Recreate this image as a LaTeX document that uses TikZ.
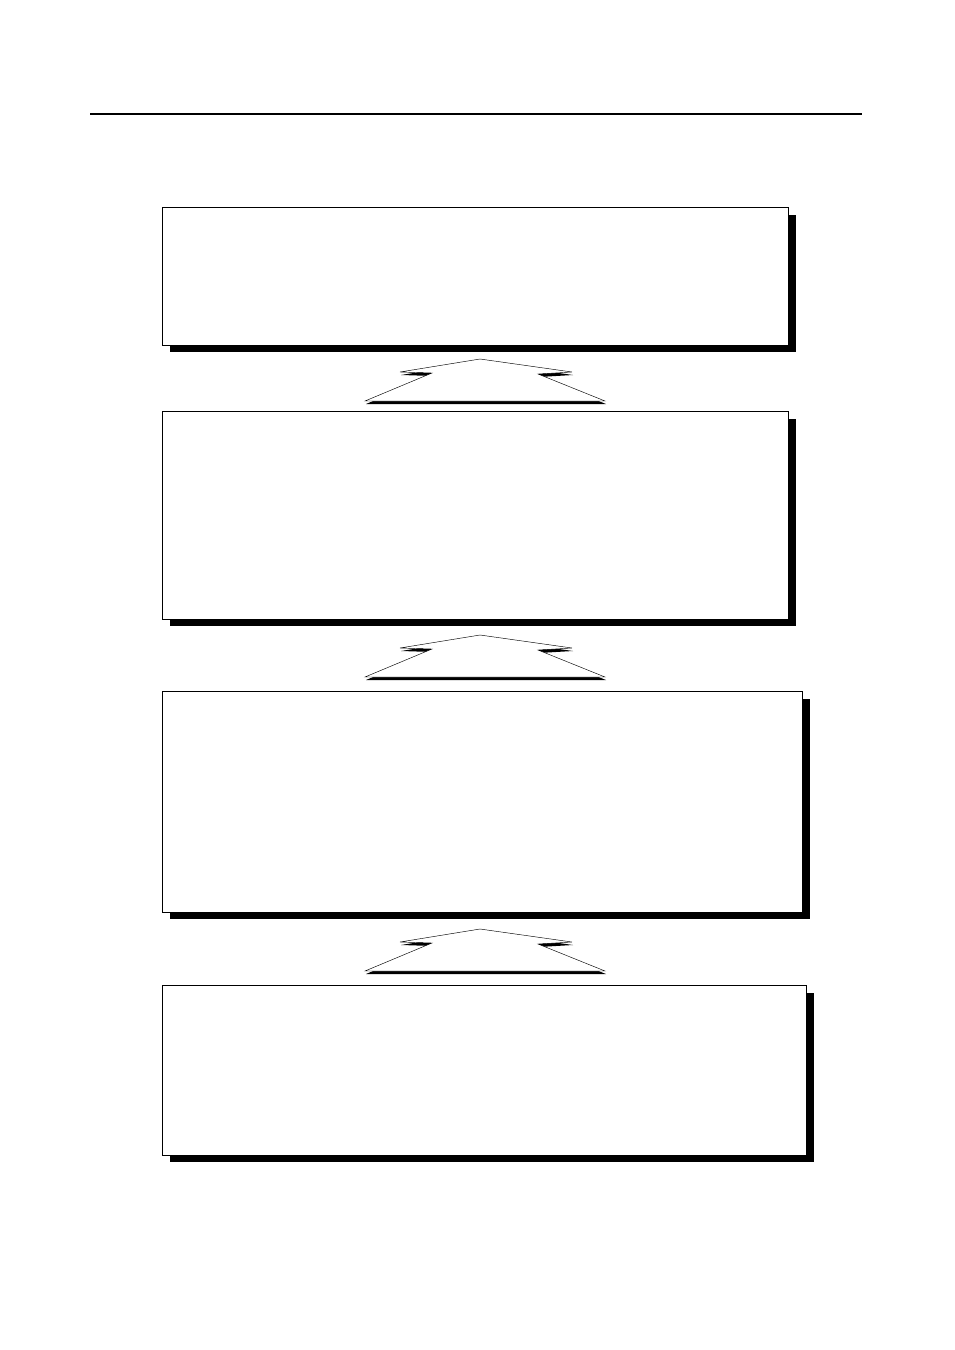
\documentclass[tikz,border=0pt]{standalone}
\begin{document}
\begin{tikzpicture}[x=1pt,y=-1pt,
  panel/.style={draw=black,line width=0.9pt,fill=white},
  panelshadow/.style={fill=black},
  roof/.style={draw=black,line width=0.45pt,fill=white},
  roofshadow/.style={fill=black}]
\useasboundingbox (0,0) rectangle (954,1350);
% top rule
\coordinate (ruleL) at (90,114);
\coordinate (ruleR) at (862,114);
\draw[line width=1.8pt] (ruleL) -- (ruleR);
% panels with shadows
\foreach \n/\l/\t/\r/\b in {p1/162/207/788/345, p2/162/411/788/619, p3/162/691/802/912, p4/162/985/806/1155}{
  \fill[panelshadow] (\l+7.5,\t+8) rectangle (\r+7.5,\b+7);
  \draw[panel] (\l,\t) rectangle (\r,\b);
  \coordinate (\n) at (\l,\t);
}
% roof-shaped arrows between panels
\foreach \a/\dy in {a1/0, a2/276, a3/570}{
  \begin{scope}[yshift=-\dy pt]
    \fill[roofshadow] (481,362) -- (401,375) -- (433,376) -- (366,404) -- (606,404) -- (539,377) -- (573,375) -- cycle;
    \draw[roof] (480,359) -- (400,372) -- (432,373) -- (365,401) -- (605,401) -- (538,374) -- (572,372) -- cycle;
    \coordinate (\a) at (480,359);
  \end{scope}
}
\end{tikzpicture}
\end{document}
